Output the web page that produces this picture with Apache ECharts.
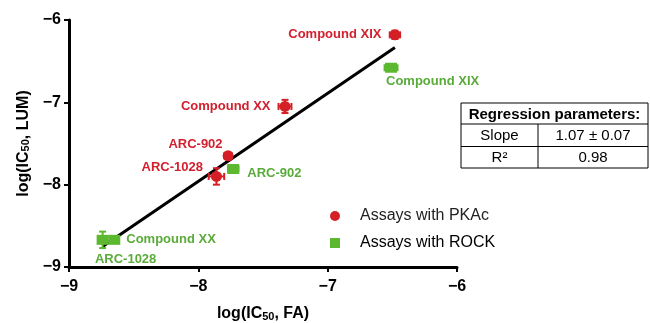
<!DOCTYPE html>
<html>
<head>
<meta charset="utf-8">
<script src="https://cdn.jsdelivr.net/npm/echarts@6/dist/echarts.min.js"></script>
<style>
  html, body { margin: 0; padding: 0; background: #fff; }
  #chart { width: 650px; height: 323px; }
</style>
</head>
<body>
<div id="chart"></div>
<script>
// Compound names
const pkaNames  = ['Compound XIX', 'Compound XX', 'ARC-902', 'ARC-1028'];
const rockNames = ['Compound XIX', 'ARC-902', 'Compound XX', 'ARC-1028'];

// log(IC50) from the FA assay (x) and the LUM assay (y), with errors
const pkaFA     = [-6.48, -7.33, -7.77, -7.86];
const pkaLUM    = [-6.18, -7.05, -7.65, -7.90];
const pkaErrFA  = [0.04, 0.05, 0.03, 0.06];
const pkaErrLUM = [0.05, 0.08, 0.04, 0.10];

const rockFA     = [-6.51, -7.73, -8.65, -8.74];
const rockLUM    = [-6.58, -7.81, -8.67, -8.67];
const rockErrFA  = [0.05, 0.04, 0.03, 0.03];
const rockErrLUM = [0.02, 0.03, 0.03, 0.10];

// Linear regression of LUM on FA
const slope = 1.07;
const slopeErr = 0.07;
const intercept = 0.60;
const rSquared = 0.98;

const ticks = [-9, -8, -7, -6];

const RED = '#d41f26';
const GREEN = '#5cb82e';
const RED_TXT = '#d2202e';
const GREEN_TXT = '#5aab3a';

// where each point's name sits relative to its marker
const pkaLabelPos = [
  { position: 'left', distance: 8, offset: [0, 0] },
  { position: 'left', distance: 9, offset: [0, 0] },
  { position: 'left', distance: 0, offset: [0, -11] },
  { position: 'left', distance: 8, offset: [0, -9] }
];
const rockLabelPos = [
  { position: 'right', distance: 0, offset: [-11, 14] },
  { position: 'right', distance: 8, offset: [0, 4] },
  { position: 'right', distance: 6, offset: [0, 0] },
  { position: 'bottom', distance: 8, offset: [23, 0] }
];

function points(xs, ys, names, pos) {
  return xs.map((x, i) => ({
    name: names[i],
    value: [x, ys[i]],
    label: pos[i]
  }));
}
function errors(xs, ys, ex, ey) {
  return xs.map((x, i) => [x, ys[i], ex[i], ey[i]]);
}

const allFA = pkaFA.concat(rockFA);
const fitX0 = Math.min.apply(null, allFA);
const fitX1 = Math.max.apply(null, allFA);
const fitLine = [
  [fitX0, slope * fitX0 + intercept],
  [fitX1, slope * fitX1 + intercept]
];

function renderError(params, api) {
  const x = api.value(0), y = api.value(1);
  const ex = api.value(2), ey = api.value(3);
  const c = api.coord([x, y]);
  const l = api.coord([x - ex, y]);
  const r = api.coord([x + ex, y]);
  const t = api.coord([x, y + ey]);
  const b = api.coord([x, y - ey]);
  const cap = 3.5;
  const style = { stroke: api.visual('color'), lineWidth: 2 };
  const seg = (x1, y1, x2, y2) => ({ type: 'line', shape: { x1, y1, x2, y2 }, style });
  return {
    type: 'group',
    children: [
      seg(l[0], c[1], r[0], c[1]),
      seg(l[0], c[1] - cap, l[0], c[1] + cap),
      seg(r[0], c[1] - cap, r[0], c[1] + cap),
      seg(c[0], t[1], c[0], b[1]),
      seg(c[0] - cap, t[1], c[0] + cap, t[1]),
      seg(c[0] - cap, b[1], c[0] + cap, b[1])
    ]
  };
}

const FONT = '"Liberation Sans", Arial, sans-serif';
const tickText = v => String(v).replace('-', '\u2212');

const axisCommon = {
  min: ticks[0],
  max: ticks[ticks.length - 1],
  interval: 1,
  splitLine: { show: false },
  axisLine: { onZero: false, lineStyle: { color: '#000', width: 3 } },
  axisTick: { length: 5, lineStyle: { color: '#000', width: 2 } },
  axisLabel: { color: '#000', fontSize: 16, fontWeight: 'bold', fontFamily: FONT, formatter: tickText },
  nameLocation: 'middle'
};
const titleRich = {
  a: { fontSize: 16, fontWeight: 'bold', color: '#000', fontFamily: FONT },
  s: { fontSize: 11, fontWeight: 'bold', color: '#000', fontFamily: FONT, verticalAlign: 'bottom', padding: [6, 0, 0, 0] }
};

const chart = echarts.init(document.getElementById('chart'), null, { renderer: 'canvas' });

const tableX = 461, tableY = 103, tableW = 187;
const rowH = [21, 22.5, 21.5];
const colX = 538;
const cellFont = { fontSize: 15, fontFamily: FONT, fill: '#000', align: 'center', verticalAlign: 'middle' };

chart.setOption({
  animation: false,
  backgroundColor: '#fff',
  grid: { left: 69, right: 193, top: 20, bottom: 56, containLabel: false, outerBoundsMode: 'none' },
  xAxis: Object.assign({}, axisCommon, {
    type: 'value',
    name: '{a|log(IC}{s|50}{a|, FA)}',
    nameGap: 38,
    nameTextStyle: { rich: titleRich },
    axisLabel: Object.assign({}, axisCommon.axisLabel, { margin: 12 })
  }),
  yAxis: Object.assign({}, axisCommon, {
    type: 'value',
    name: '{a|log(IC}{s|50}{a|, LUM)}',
    nameGap: 36,
    nameTextStyle: { rich: titleRich },
    axisLabel: Object.assign({}, axisCommon.axisLabel, { margin: 8 })
  }),
  legend: {
    orient: 'vertical',
    left: 325,
    top: 203,
    itemWidth: 10,
    itemHeight: 10,
    itemGap: 11,
    textStyle: { fontSize: 16, fontFamily: FONT, color: '#222', padding: [0, 0, 0, 15] },
    data: [
      { name: 'Assays with PKAc', icon: 'circle' },
      { name: 'Assays with ROCK', icon: 'rect', textStyle: { color: '#000' } }
    ]
  },
  graphic: [
    { type: 'rect', shape: { x: tableX, y: tableY, width: tableW, height: rowH[0] + rowH[1] + rowH[2] },
      style: { fill: '#fff', stroke: '#000', lineWidth: 1 } },
    { type: 'line', shape: { x1: tableX, y1: tableY + rowH[0], x2: tableX + tableW, y2: tableY + rowH[0] },
      style: { stroke: '#000', lineWidth: 1 } },
    { type: 'line', shape: { x1: tableX, y1: tableY + rowH[0] + rowH[1], x2: tableX + tableW, y2: tableY + rowH[0] + rowH[1] },
      style: { stroke: '#000', lineWidth: 1 } },
    { type: 'line', shape: { x1: colX, y1: tableY + rowH[0], x2: colX, y2: tableY + rowH[0] + rowH[1] + rowH[2] },
      style: { stroke: '#000', lineWidth: 1 } },
    { type: 'text', x: tableX + tableW / 2, y: tableY + rowH[0] / 2 + 1,
      style: Object.assign({}, cellFont, { text: 'Regression parameters:', fontWeight: 'bold' }) },
    { type: 'text', x: (tableX + colX) / 2, y: tableY + rowH[0] + rowH[1] / 2 + 1,
      style: Object.assign({}, cellFont, { text: 'Slope' }) },
    { type: 'text', x: (colX + tableX + tableW) / 2, y: tableY + rowH[0] + rowH[1] / 2 + 1,
      style: Object.assign({}, cellFont, { text: slope.toFixed(2) + ' \u00b1 ' + slopeErr.toFixed(2) }) },
    { type: 'text', x: (tableX + colX) / 2, y: tableY + rowH[0] + rowH[1] + rowH[2] / 2 + 1,
      style: Object.assign({}, cellFont, { text: 'R\u00b2' }) },
    { type: 'text', x: (colX + tableX + tableW) / 2, y: tableY + rowH[0] + rowH[1] + rowH[2] / 2 + 1,
      style: Object.assign({}, cellFont, { text: rSquared.toFixed(2) }) }
  ],
  series: [
    {
      name: 'fit',
      type: 'line',
      data: fitLine,
      symbol: 'none',
      lineStyle: { color: '#000', width: 3 },
      z: 1,
      silent: true
    },
    {
      name: 'Assays with PKAc',
      type: 'custom',
      renderItem: renderError,
      data: errors(pkaFA, pkaLUM, pkaErrFA, pkaErrLUM),
      itemStyle: { color: RED },
      encode: { x: 0, y: 1 },
      z: 3
    },
    {
      name: 'Assays with ROCK',
      type: 'custom',
      renderItem: renderError,
      data: errors(rockFA, rockLUM, rockErrFA, rockErrLUM),
      itemStyle: { color: GREEN },
      encode: { x: 0, y: 1 },
      z: 3
    },
    {
      name: 'Assays with PKAc',
      type: 'scatter',
      symbol: 'circle',
      symbolSize: 11,
      itemStyle: { color: RED, opacity: 1 },
      data: points(pkaFA, pkaLUM, pkaNames, pkaLabelPos),
      label: {
        show: true,
        formatter: '{b}',
        color: RED_TXT,
        fontSize: 13,
        fontWeight: 'bold',
        fontFamily: FONT
      },
      z: 4
    },
    {
      name: 'Assays with ROCK',
      type: 'scatter',
      symbol: 'rect',
      symbolSize: [12, 10],
      itemStyle: { color: GREEN, opacity: 1 },
      data: points(rockFA, rockLUM, rockNames, rockLabelPos),
      label: {
        show: true,
        formatter: '{b}',
        color: GREEN_TXT,
        fontSize: 13,
        fontWeight: 'bold',
        fontFamily: FONT
      },
      z: 4
    }
  ]
});
</script>
</body>
</html>
